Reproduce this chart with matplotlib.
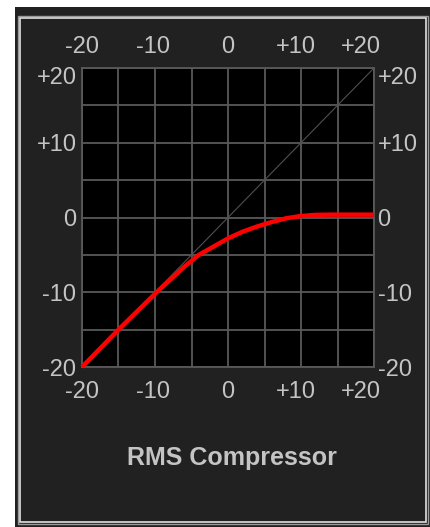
import matplotlib
matplotlib.use("Agg")
import matplotlib.pyplot as plt
import matplotlib.patches as mpatches
import matplotlib.transforms as mtransforms

# transfer curve of the compressor (input dB -> output dB)
curve_in = [-20, -15, -10, -8, -6, -4, -2, 0, 2, 4, 6, 8, 10, 12, 14, 20]
curve_out = [-20, -15, -10.2, -8.4, -6.6, -5.0, -3.9, -2.8, -1.9, -1.2, -0.6, -0.1, 0.2, 0.35, 0.38, 0.38]

tick_vals = [-20, -10, 0, 10, 20]
tick_labels = ["-20", "-10", "0", "+10", "+20"]
grid_vals = [-20, -15, -10, -5, 0, 5, 10, 15, 20]
title = "RMS Compressor"

W, H = 430, 527
panel_bg = "#212121"
text_col = "#c4c4c4"
label_font = ["Liberation Sans Narrow", "Liberation Sans", "DejaVu Sans"]

fig = plt.figure(figsize=(W / 100, H / 100), dpi=100, facecolor="white")


def px_rect(x0, y0, x1, y1, **kw):
    # rectangle given in image pixels (origin top-left)
    r = mpatches.Rectangle((x0 / W, 1 - y1 / H), (x1 - x0) / W, (y1 - y0) / H,
                           transform=fig.transFigure, figure=fig, zorder=0, **kw)
    fig.patches.append(r)


# dark panel with a bevelled frame
px_rect(15, 7, 430, 527, facecolor=panel_bg, edgecolor="none")
px_rect(18, 16, 428, 524, facecolor="none", edgecolor="#9a9a9a", linewidth=1.0)
px_rect(20, 18, 426, 522, facecolor="none", edgecolor="#e0e0e0", linewidth=1.2)
px_rect(22, 20, 424, 520, facecolor=panel_bg, edgecolor="none")

ax = fig.add_axes([82 / W, 1 - 367 / H, 292 / W, 299 / H])
ax.set_zorder(5)
ax.set_facecolor("black")
ax.set_xlim(-20, 20)
ax.set_ylim(-20, 20)

for g in grid_vals:
    ax.axvline(g, color="#595959", lw=1.3, zorder=1)
    ax.axhline(g, color="#595959", lw=1.3, zorder=1)
for s in ax.spines.values():
    s.set_color("#595959")
    s.set_linewidth(1.3)

ax.plot([-20, 20], [-20, 20], color="#505050", lw=0.8, zorder=2)
ax.plot(curve_in, curve_out, color="#ff0000", lw=3.2, zorder=3,
        solid_capstyle="butt", clip_on=False)

ax.set_xticks(tick_vals)
ax.set_xticklabels(tick_labels)
ax.set_yticks(tick_vals)
ax.set_yticklabels(tick_labels)
ax.tick_params(axis="x", length=0, top=True, labeltop=True, labelbottom=True,
               pad=10, colors=text_col, labelsize=17)
ax.tick_params(axis="y", length=0, right=True, labelright=True, labelleft=True,
               pad=4, colors=text_col, labelsize=17)
ax.tick_params(axis="y", which="major", labelright=True)
for lab in ax.get_xticklabels() + ax.get_yticklabels():
    lab.set_family(label_font)

# nudge edge labels the way the original widget draws them
xt = ax.xaxis.get_major_ticks()
for t, dx in ((xt[1], -2), (xt[3], -5), (xt[4], -13)):
    off = mtransforms.ScaledTranslation(dx / 100, 0, fig.dpi_scale_trans)
    t.label1.set_transform(t.label1.get_transform() + off)
    t.label2.set_transform(t.label2.get_transform() + off)
for t in xt:
    off = mtransforms.ScaledTranslation(0, -4 / 100, fig.dpi_scale_trans)
    t.label2.set_transform(t.label2.get_transform() + off)
yt = ax.yaxis.get_major_ticks()
off = mtransforms.ScaledTranslation(0, -7 / 100, fig.dpi_scale_trans)
yt[4].label1.set_transform(yt[4].label1.get_transform() + off)
yt[4].label2.set_transform(yt[4].label2.get_transform() + off)
for t in yt:
    off = mtransforms.ScaledTranslation(-2 / 100, 0, fig.dpi_scale_trans)
    t.label2.set_transform(t.label2.get_transform() + off)

fig.text(232 / W, 1 - 458 / H, title, ha="center", va="center", color=text_col,
         fontsize=18, fontweight="bold", family=["Liberation Sans", "DejaVu Sans"])

fig.savefig("out.png", dpi=100, facecolor="white")
